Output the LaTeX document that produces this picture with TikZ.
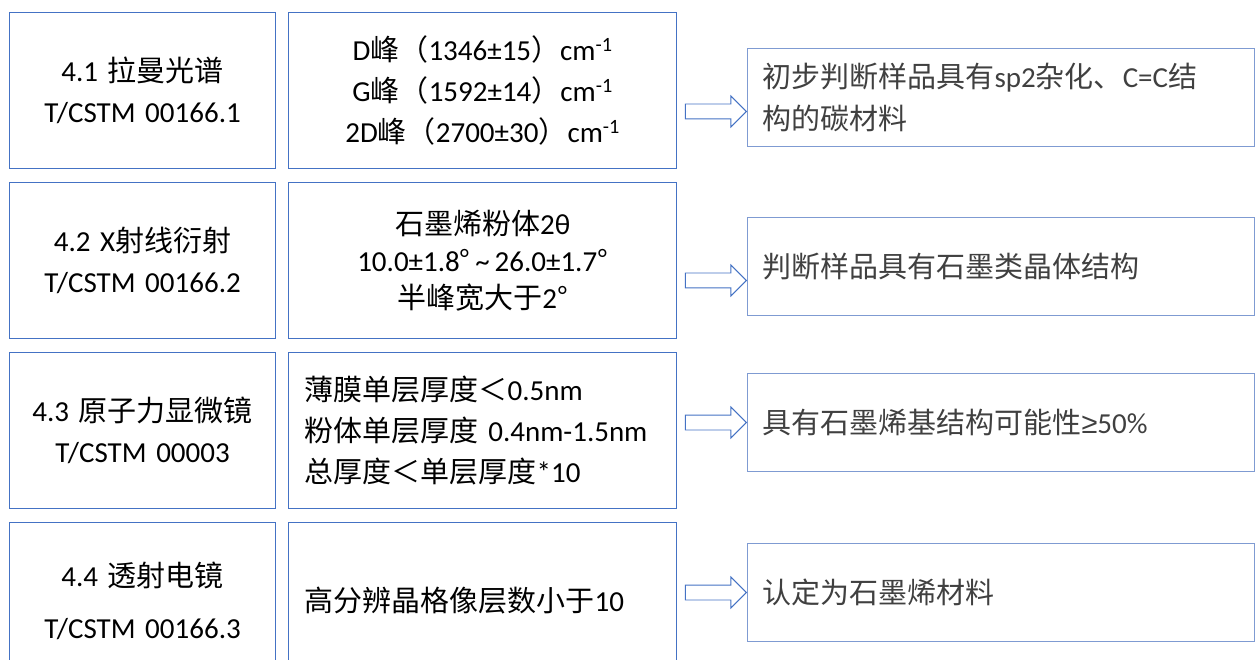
\documentclass[tikz,border=0pt]{standalone}
\usepackage{fontspec}
\setmainfont{Carlito}
\newfontfamily\zhfont{Noto Sans CJK SC}
\newfontfamily\signfont{Liberation Sans}
\newcommand\zh[1]{{\zhfont #1}}
\usetikzlibrary{positioning,shapes.arrows}
\definecolor{boxblue}{HTML}{4472C4}
\definecolor{resblue}{HTML}{7F9BD2}
\definecolor{restext}{HTML}{404040}
\tikzset{
  methbox/.style={draw=boxblue, line width=1.1pt, text width=234pt, inner xsep=16pt,
    minimum height=156pt, align=center, font=\fontsize{29}{41}\selectfont},
  databox/.style={methbox, text width=356pt},
  resbox/.style={draw=resblue, line width=1pt, text width=477pt, inner xsep=15pt,
    minimum height=98pt, align=left, anchor=north west, text=restext,
    font=\fontsize{29}{42}\selectfont},
  blockarrow/.style={single arrow, draw=boxblue, fill=white, line width=0.9pt,
    inner xsep=0pt, inner ysep=7pt, minimum height=61pt,
    single arrow head extend=8pt, single arrow tip angle=90, anchor=tip}
}

\begin{document}
\begin{tikzpicture}[x=1pt, y=-1pt]
  \useasboundingbox (0,0) rectangle (1259,660);
  \clip (0,0) rectangle (1259,660);

  % test methods
  \node[methbox, anchor=north west] (meth1) at (9,12) {4.1 \zh{拉曼光谱}\\T/CSTM 00166.1};
  \node[methbox, below=13pt of meth1] (meth2) {4.2 X\zh{射线衍射}\\T/CSTM 00166.2};
  \node[methbox, below=13pt of meth2] (meth3) {4.3 \zh{原子力显微镜}\\T/CSTM 00003};
  \node[methbox, below=13pt of meth3] (meth4) {4.4 \zh{透射电镜}\\[11pt]T/CSTM 00166.3};

  % measured values
  \node[databox, right=12pt of meth1] (data1) {D\zh{峰（}1346±15\zh{）}cm\textsuperscript{-1}\\
    G\zh{峰（}1592±14\zh{）}cm\textsuperscript{-1}\\
    2D\zh{峰（}2700±30\zh{）}cm\textsuperscript{-1}};
  \node[databox, right=12pt of meth2] (data2) {\zh{石墨烯粉体}2θ\\[-4pt]
    10.0±1.8\zh{°}\,\textasciitilde\,26.0±1.7\zh{°}\\[-4pt]
    \zh{半峰宽大于}2\zh{°}};
  \node[databox, align=left, right=12pt of meth3] (data3) {\zh{薄膜单层厚度＜}0.5nm\\
    \zh{粉体单层厚度} 0.4nm-1.5nm\\
    \zh{总厚度＜单层厚度}*10};
  \node[databox, align=left, right=12pt of meth4] (data4) {\zh{高分辨晶格像层数小于}10};

  % conclusions
  \node[resbox] (res1) at (747,48) {\zh{初步判断样品具有}sp2\zh{杂化、}C=C\zh{结}\\\zh{构的碳材料}};
  \node[resbox] (res2) at (747,217) {\zh{判断样品具有石墨类晶体结构}};
  \node[resbox] (res3) at (747,373) {\zh{具有石墨烯基结构可能性}{\signfont ≥}50\%};
  \node[resbox] (res4) at (747,543) {\zh{认定为石墨烯材料}};

  \node[blockarrow] (arr1) at ([yshift=-14pt]res1.west) {};
  \node[blockarrow] (arr2) at ([yshift=-14pt]res2.west) {};
  \node[blockarrow] (arr3) at (res3.west) {};
  \node[blockarrow] (arr4) at (res4.west) {};
\end{tikzpicture}
\end{document}
